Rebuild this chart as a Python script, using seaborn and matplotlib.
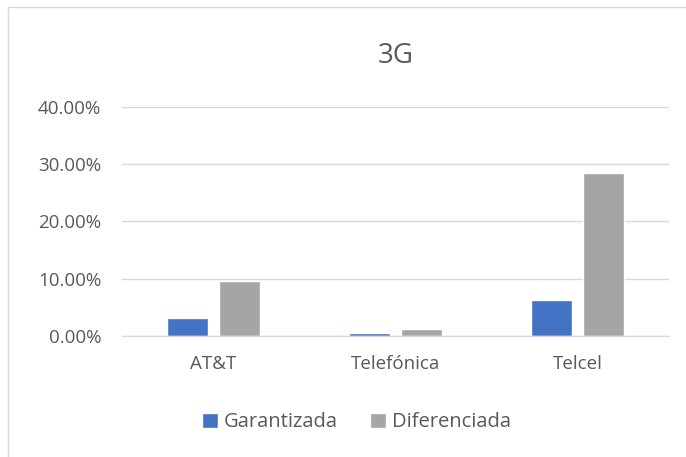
import matplotlib
matplotlib.use("Agg")
import matplotlib.pyplot as plt
from matplotlib.patches import Rectangle
from matplotlib.ticker import FuncFormatter, MultipleLocator
import seaborn as sns
import pandas as pd

categories = ["AT&T", "Telefónica", "Telcel"]
garantizada = [0.0312, 0.0050, 0.0630]
diferenciada = [0.0962, 0.0130, 0.2855]
series_names = ["Garantizada", "Diferenciada"]

df = pd.DataFrame({
    "Operador": categories * 2,
    "Serie": [series_names[0]] * 3 + [series_names[1]] * 3,
    "Valor": garantizada + diferenciada,
})

sns.set_theme(style="white")
plt.rcParams["font.family"] = ["Open Sans", "DejaVu Sans"]

fig = plt.figure(figsize=(6.86, 4.57), dpi=100)
ax = fig.add_axes([0.178, 1 - 336 / 457, 547 / 686, 229 / 457])

sns.barplot(data=df, x="Operador", y="Valor", hue="Serie", order=categories,
            hue_order=series_names, palette=["#4472C4", "#A5A5A5"],
            width=0.57, gap=0.21, ax=ax, errorbar=None, saturation=1)

ax.set_ylim(0, 0.4)
ax.yaxis.set_major_locator(MultipleLocator(0.1))
ax.yaxis.set_major_formatter(FuncFormatter(lambda v, p: f"{v*100:.2f}%"))
ax.grid(axis="y", color="#D9D9D9", linewidth=1)
ax.set_axisbelow(True)
for s in ["top", "right", "left"]:
    ax.spines[s].set_visible(False)
ax.spines["bottom"].set_color("#D9D9D9")
ax.spines["bottom"].set_linewidth(1)
ax.set_xlabel("")
ax.set_ylabel("")
ax.tick_params(axis="both", length=0, labelsize=13.5, colors="#595959")
ax.tick_params(axis="y", pad=15)
ax.tick_params(axis="x", pad=14)

ax.set_title("3G", fontsize=20, color="#595959", pad=32)

handles, labels = ax.get_legend_handles_labels()
ax.legend(handles, labels, loc="center", bbox_to_anchor=(0.52, 0.076),
          bbox_transform=fig.transFigure, ncol=2, frameon=False,
          fontsize=14.5, labelcolor="#595959", handlelength=0.8,
          handleheight=0.8, handletextpad=0.3, columnspacing=1.6)

fig.patches.append(Rectangle((8 / 686, -0.01), 1.0, 1 - 7 / 457 + 0.01,
                             transform=fig.transFigure, fill=False,
                             edgecolor="#D9D9D9", linewidth=1))

fig.savefig("out.png", dpi=100)
